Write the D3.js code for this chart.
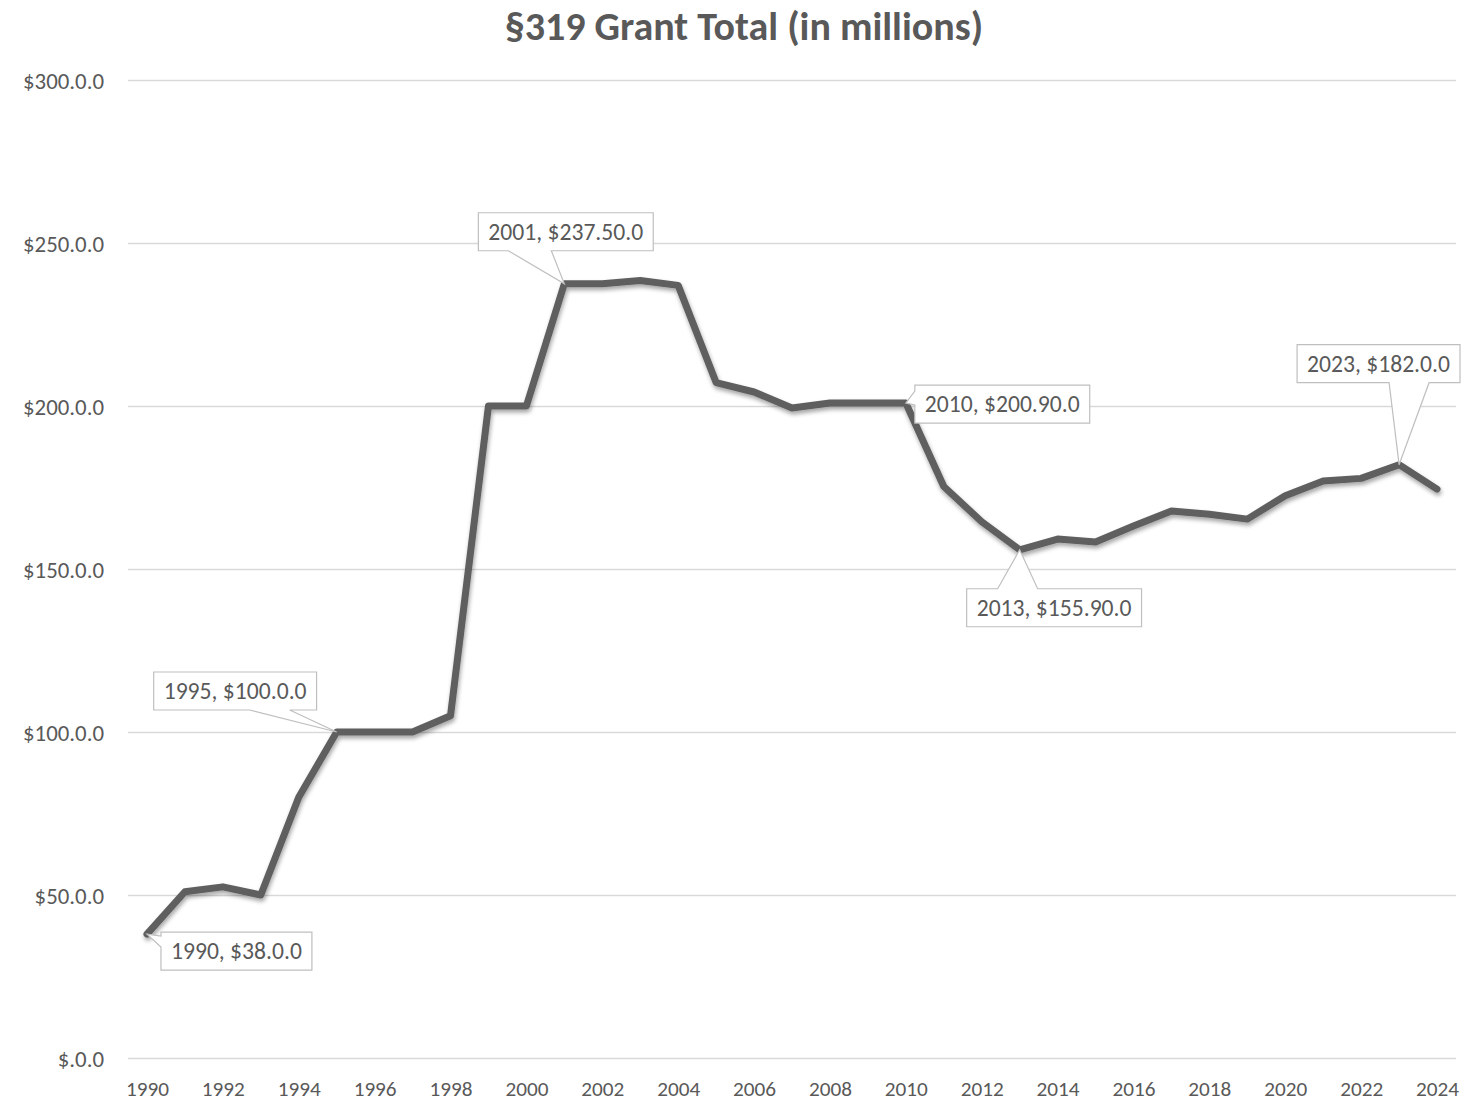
<!DOCTYPE html>
<html>
<head>
<meta charset="utf-8">
<script src="https://cdn.jsdelivr.net/npm/d3@7"></script>
<style>
  html, body { margin: 0; padding: 0; background: #fff; }
  svg { display: block; font-family: Carlito, Lato, "Open Sans", sans-serif; }
</style>
</head>
<body>
<svg id="chart" width="1481" height="1102"></svg>
<script>
// ---- data ----
const years = [1990,1991,1992,1993,1994,1995,1996,1997,1998,1999,2000,2001,2002,2003,2004,2005,2006,2007,2008,2009,2010,2011,2012,2013,2014,2015,2016,2017,2018,2019,2020,2021,2022,2023,2024];
const grantTotals = [38,51,52.5,50,80,100,100,100,105,200,200,237.5,237.5,238.5,237,207.2,204.3,199.4,200.9,200.9,200.9,175.3,164.5,155.9,159.2,158.3,163.2,167.8,166.8,165.3,172.5,177,177.8,182,174.5];
const yTickValues = [0,50,100,150,200,250,300];
const yTickLabels = ["$.0.0","$50.0.0","$100.0.0","$150.0.0","$200.0.0","$250.0.0","$300.0.0"];
const xTickYears = [1990,1992,1994,1996,1998,2000,2002,2004,2006,2008,2010,2012,2014,2016,2018,2020,2022,2024];
const calloutYears = [1990,1995,2001,2010,2013,2023];
const titleText = "§319 Grant Total (in millions)";

// ---- callout layout (box offset from point, pointer side and base offsets) ----
const calloutLayout = {
  1990: {dx: 14, dy: -2, side: "left", b1: 4, b2: 15},
  1995: {dx: -183, dy: -60, side: "bottom", b1: 96, b2: 136},
  2001: {dx: -86, dy: -71, side: "bottom", b1: 30, b2: 73},
  2010: {dx: 9, dy: -18, side: "left", b1: 6, b2: 20},
  2013: {dx: -53, dy: 39, side: "top", b1: 31, b2: 71},
  2023: {dx: -102, dy: -120, side: "bottom", b1: 92, b2: 132}
};

const svg = d3.select("#chart");
const textColor = "#595959";
const plotLeft = 128, plotRight = 1456, plotTop = 80, plotBottom = 1058;

const x = d3.scalePoint().domain(years).range([plotLeft, plotRight]).padding(0.5);
const y = d3.scaleLinear().domain([0, 300]).range([plotBottom, plotTop]);

// font size fitting helper: size such that sample text has the target width
function fitSize(sample, target, weight) {
  const t = svg.append("text").attr("font-size", 20).attr("font-weight", weight || "normal").text(sample);
  const w = t.node().getComputedTextLength();
  t.remove();
  return w > 0 ? 20 * target / w : 20;
}
const titleSize = Math.min(40, fitSize(titleText, 500, "bold"));
const yTickSize = fitSize("$300.0.0", 81);
const xTickSize = fitSize("1990", 43);
const calloutSize = fitSize("2001, $237.50.0", 155);

// defs: shadow
const defs = svg.append("defs");
const f = defs.append("filter").attr("id", "shadow").attr("x", "-5%").attr("y", "-5%").attr("width", "110%").attr("height", "115%");
f.append("feDropShadow").attr("dx", 1).attr("dy", 3).attr("stdDeviation", 2.2)
  .attr("flood-color", "#000").attr("flood-opacity", 0.35);

// title
svg.append("text")
  .attr("x", 744).attr("y", 40)
  .attr("text-anchor", "middle")
  .attr("font-weight", "bold")
  .attr("font-size", titleSize)
  .attr("fill", textColor)
  .text(titleText);

// gridlines + y labels
const yAxis = d3.axisLeft(y).tickValues(yTickValues)
  .tickSize(-(plotRight - plotLeft))
  .tickFormat((d, i) => yTickLabels[i]);
const gy = svg.append("g").attr("transform", `translate(${plotLeft},0)`).call(yAxis);
gy.select(".domain").remove();
gy.attr("font-family", null).attr("font-size", null);
gy.selectAll(".tick line").attr("stroke", "#d9d9d9").attr("stroke-width", 1.3);
gy.selectAll(".tick text")
  .attr("x", -24).attr("dy", "0.35em")
  .attr("fill", textColor).attr("font-size", yTickSize);

// x labels
const xAxis = d3.axisBottom(x).tickValues(xTickYears).tickSize(0).tickPadding(0);
const gx = svg.append("g").attr("transform", `translate(0,${plotBottom})`).call(xAxis);
gx.select(".domain").remove();
gx.attr("font-family", null).attr("font-size", null);
gx.selectAll(".tick text").attr("y", 38).attr("dy", 0)
  .attr("fill", textColor).attr("font-size", xTickSize);

// line
const line = d3.line().x((d, i) => x(years[i])).y(d => y(d));
svg.append("path")
  .datum(grantTotals)
  .attr("d", line)
  .attr("fill", "none")
  .attr("stroke", "#5f5f5f")
  .attr("stroke-width", 7)
  .attr("stroke-linejoin", "round")
  .attr("stroke-linecap", "round")
  .attr("filter", "url(#shadow)");

// callouts
function fmtVal(v) {
  return (Number.isInteger(v) ? v.toFixed(1) : v.toFixed(2)) + ".0";
}
const boxH = 38, padX = 10;
calloutYears.forEach(yr => {
  const i = years.indexOf(yr);
  const v = grantTotals[i];
  const px = x(yr), py = y(v);
  const L = calloutLayout[yr];
  const g = svg.append("g");
  const bx = px + L.dx, by = py + L.dy;
  const t = g.append("text")
    .attr("x", bx + padX).attr("y", by + boxH / 2)
    .attr("dy", "0.35em")
    .attr("font-size", calloutSize)
    .attr("fill", textColor)
    .text(`${yr}, $${fmtVal(v)}`);
  const tw = t.node().getComputedTextLength();
  const bw = tw + padX * 2;
  let p;
  if (L.side === "bottom") {
    p = `M${bx},${by}H${bx + bw}V${by + boxH}H${bx + L.b2}L${px},${py}L${bx + L.b1},${by + boxH}H${bx}Z`;
  } else if (L.side === "top") {
    p = `M${bx},${by}H${bx + L.b1}L${px},${py}L${bx + L.b2},${by}H${bx + bw}V${by + boxH}H${bx}Z`;
  } else {
    p = `M${bx},${by}H${bx + bw}V${by + boxH}H${bx}V${by + L.b2}L${px},${py}L${bx},${by + L.b1}Z`;
  }
  g.insert("path", "text").attr("d", p)
    .attr("fill", "#fff").attr("stroke", "#bfbfbf").attr("stroke-width", 1.2);
});
</script>
</body>
</html>
